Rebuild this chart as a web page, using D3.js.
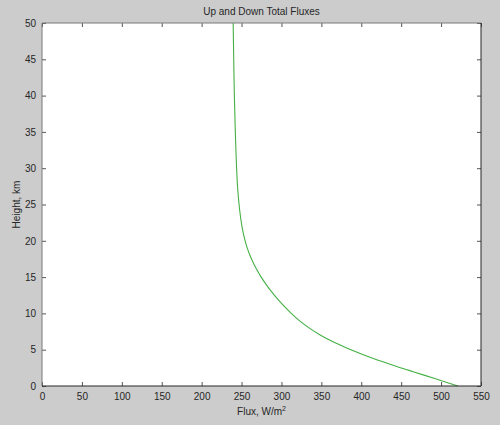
<!DOCTYPE html>
<html>
<head>
<meta charset="utf-8">
<script src="https://cdn.jsdelivr.net/npm/d3@7"></script>
<style>
  html, body { margin: 0; padding: 0; background: #cccccc; }
  svg { display: block; font-family: "Liberation Sans", Arial, sans-serif; }
  .tick text { fill: #262626; font-size: 10px; }
</style>
</head>
<body>
<script>
// height (km) and total flux (W/m^2)
const heights = [0, 1, 2, 3, 4, 5, 6, 7, 8, 9, 10, 11, 12, 13, 14, 15, 16, 17, 18, 19, 20, 21, 22, 23, 24, 25, 27, 30, 35, 40, 45, 50];
const fluxes  = [521, 493, 464, 436, 410, 387, 366.5, 349, 334.5, 322.5, 312.3, 303.3, 295, 287.5, 280.7, 274.6, 269.2, 264.5, 260.5, 257.2, 254.5, 252.3, 250.5, 249.1, 247.9, 246.9, 245.3, 243.8, 242.2, 241, 240.2, 239.5];
const xTicks = [0, 50, 100, 150, 200, 250, 300, 350, 400, 450, 500, 550];
const yTicks = [0, 5, 10, 15, 20, 25, 30, 35, 40, 45, 50];

const w = 500, h = 425;
const margin = { top: 23, left: 42, right: 19, bottom: 39 };
const width = w - margin.left - margin.right;
const height = h - margin.top - margin.bottom;

const svg = d3.select("body").append("svg")
  .attr("width", w)
  .attr("height", h);

const chart = svg.append("g")
  .attr("transform", "translate(" + margin.left + "," + margin.top + ")");

const x = d3.scaleLinear().domain([0, 550]).range([0, width]);
const y = d3.scaleLinear().domain([0, 50]).range([height, 0]);

// white plot area
chart.append("rect")
  .attr("width", width)
  .attr("height", height)
  .attr("fill", "#ffffff");

// the curve
const data = heights.map((d, i) => [fluxes[i], d]);
const line = d3.line()
  .x(d => x(d[0]))
  .y(d => y(d[1]))
  .curve(d3.curveCatmullRom);

chart.append("path")
  .datum(data)
  .attr("d", line)
  .attr("fill", "none")
  .attr("stroke", "#45b045")
  .attr("stroke-width", 1.1);

// axes with inward ticks
const xAxis = d3.axisBottom(x).tickValues(xTicks).tickSize(-4).tickPadding(7);
const yAxis = d3.axisLeft(y).tickValues(yTicks).tickSize(-4).tickPadding(6);

chart.append("g")
  .attr("transform", "translate(0," + height + ")")
  .call(xAxis);
chart.append("g").call(yAxis);

// top and right ticks
chart.append("g")
  .call(d3.axisTop(x).tickValues(xTicks).tickSize(-4).tickFormat(""));
chart.append("g")
  .attr("transform", "translate(" + width + ",0)")
  .call(d3.axisRight(y).tickValues(yTicks).tickSize(-4).tickFormat(""));

chart.selectAll(".domain").remove();
chart.selectAll(".tick line").attr("stroke", "#555555");

// box: lighter top/left, dark bottom/right
chart.append("line").attr("x1", 0).attr("x2", width).attr("y1", 0).attr("y2", 0)
  .attr("stroke", "#7a7a7a");
chart.append("line").attr("x1", 0).attr("x2", 0).attr("y1", 0).attr("y2", height)
  .attr("stroke", "#7a7a7a");
chart.append("line").attr("x1", 0).attr("x2", width).attr("y1", height).attr("y2", height)
  .attr("stroke", "#262626");
chart.append("line").attr("x1", width).attr("x2", width).attr("y1", 0).attr("y2", height)
  .attr("stroke", "#262626");

// title and labels
svg.append("text")
  .attr("x", margin.left + width / 2)
  .attr("y", 15)
  .attr("text-anchor", "middle")
  .attr("font-size", "10px")
  .attr("fill", "#262626")
  .text("Up and Down Total Fluxes");

const xl = svg.append("text")
  .attr("x", margin.left + width / 2)
  .attr("y", 415)
  .attr("text-anchor", "middle")
  .attr("font-size", "10px")
  .attr("fill", "#262626");
xl.append("tspan").text("Flux, W/m");
xl.append("tspan").attr("dy", -4).attr("font-size", "7px").text("2");

svg.append("text")
  .attr("transform", "translate(20," + (margin.top + height / 2) + ") rotate(-90)")
  .attr("text-anchor", "middle")
  .attr("font-size", "10px")
  .attr("fill", "#262626")
  .text("Height, km");
</script>
</body>
</html>
